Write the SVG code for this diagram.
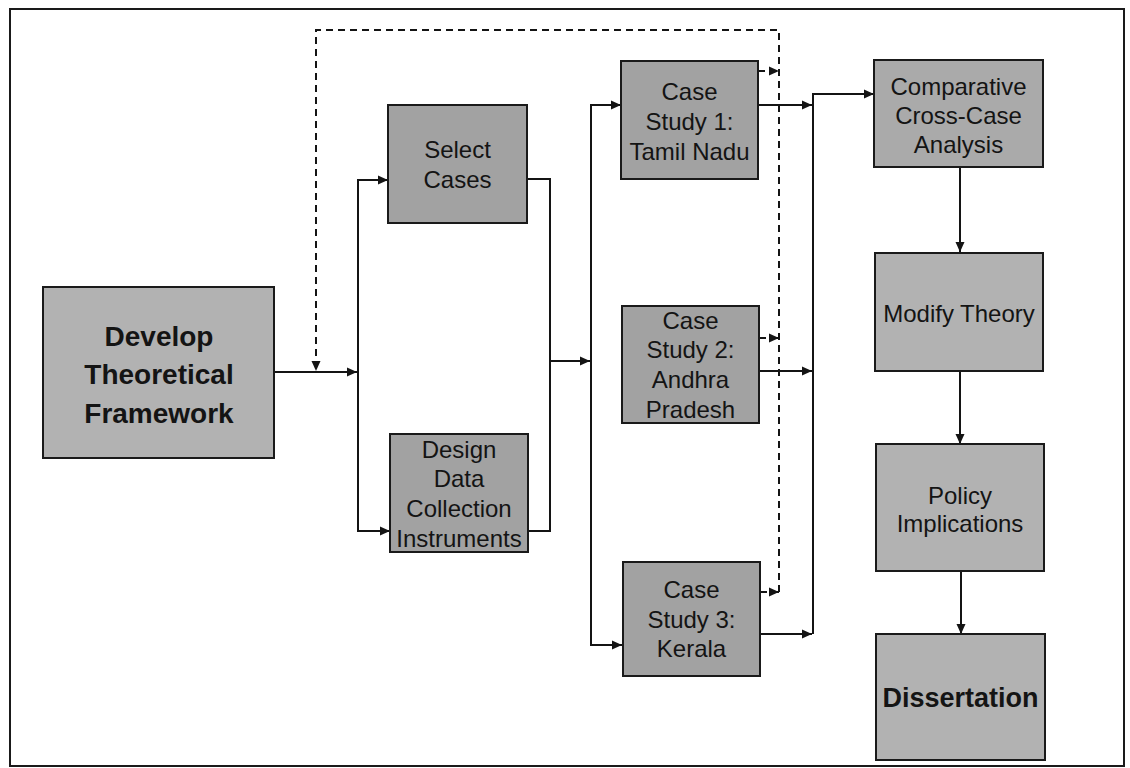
<svg xmlns="http://www.w3.org/2000/svg" width="1130" height="768" viewBox="0 0 1130 768">
<defs>
<style>
.box{stroke:#1a1a1a;stroke-width:2}
.dark{fill:#a2a2a2}
.light{fill:#b2b2b2}
.mid{fill:#aaaaaa}
.t{font-family:"Liberation Sans",Arial,sans-serif;font-size:24px;fill:#141414;text-anchor:middle}
.tb{font-family:"Liberation Sans",Arial,sans-serif;font-weight:bold;fill:#141414;text-anchor:middle}
.c{fill:none;stroke:#141414;stroke-width:2}
.d{fill:none;stroke:#141414;stroke-width:2;stroke-dasharray:7,5}
</style>
<marker id="ah" viewBox="0 0 10 10" refX="10" refY="5" markerWidth="10" markerHeight="10" markerUnits="userSpaceOnUse" orient="auto">
<path d="M0,0.5 L10,5 L0,9.5 Z" fill="#141414"/>
</marker>
</defs>
<rect x="0" y="0" width="1130" height="768" fill="#ffffff"/>
<rect x="10" y="9" width="1114" height="757" fill="none" stroke="#1a1a1a" stroke-width="2"/>

<g id="connectors">
<path class="d" d="M779,592 V30 H316 V371" marker-end="url(#ah)"/>
<path class="d" d="M758,71 H779" marker-end="url(#ah)"/>
<path class="d" d="M759,338 H779" marker-end="url(#ah)"/>
<path class="d" d="M760,592 H779" marker-end="url(#ah)"/>
<path class="c" d="M274,372 H357" marker-end="url(#ah)"/>
<path class="c" d="M358,372 V180 H388" marker-end="url(#ah)"/>
<path class="c" d="M358,372 V531 H390" marker-end="url(#ah)"/>
<path class="c" d="M527,179 H550 V531 H528"/>
<path class="c" d="M550,361 H590" marker-end="url(#ah)"/>
<path class="c" d="M591,361 V105 H621" marker-end="url(#ah)"/>
<path class="c" d="M591,361 V645 H622" marker-end="url(#ah)"/>
<path class="c" d="M758,105 H812" marker-end="url(#ah)"/>
<path class="c" d="M759,371 H812" marker-end="url(#ah)"/>
<path class="c" d="M760,634 H812" marker-end="url(#ah)"/>
<path class="c" d="M813,634 V94 H874" marker-end="url(#ah)"/>
<path class="c" d="M960,167 V252" marker-end="url(#ah)"/>
<path class="c" d="M960,371 V444" marker-end="url(#ah)"/>
<path class="c" d="M961,571 V634" marker-end="url(#ah)"/>
</g>

<g id="develop">
<rect class="box light" x="43" y="287" width="231" height="171"/>
<text class="tb" font-size="28" x="159" y="346">Develop</text>
<text class="tb" font-size="28" x="159" y="384">Theoretical</text>
<text class="tb" font-size="28" x="159" y="423">Framework</text>
</g>

<g id="select">
<rect class="box dark" x="388" y="105" width="139" height="118"/>
<text class="t" x="457.5" y="158">Select</text>
<text class="t" x="457.5" y="188">Cases</text>
</g>

<g id="design">
<rect class="box dark" x="390" y="434" width="138" height="118"/>
<text class="t" x="459" y="458">Design</text>
<text class="t" x="459" y="487">Data</text>
<text class="t" x="459" y="517">Collection</text>
<text class="t" x="459" y="547">Instruments</text>
</g>

<g id="case1">
<rect class="box dark" x="621" y="61" width="137" height="118"/>
<text class="t" x="689.5" y="100">Case</text>
<text class="t" x="689.5" y="130">Study 1:</text>
<text class="t" x="689.5" y="160">Tamil Nadu</text>
</g>

<g id="case2">
<rect class="box dark" x="622" y="306" width="137" height="117"/>
<text class="t" x="690.5" y="329">Case</text>
<text class="t" x="690.5" y="358">Study 2:</text>
<text class="t" x="690.5" y="388">Andhra</text>
<text class="t" x="690.5" y="418">Pradesh</text>
</g>

<g id="case3">
<rect class="box dark" x="623" y="562" width="137" height="114"/>
<text class="t" x="691.5" y="598">Case</text>
<text class="t" x="691.5" y="628">Study 3:</text>
<text class="t" x="691.5" y="657">Kerala</text>
</g>

<g id="comparative">
<rect class="box mid" x="874" y="60" width="169" height="107"/>
<text class="t" x="958.5" y="95">Comparative</text>
<text class="t" x="958.5" y="124">Cross-Case</text>
<text class="t" x="958.5" y="153">Analysis</text>
</g>

<g id="modify">
<rect class="box light" x="875" y="253" width="168" height="118"/>
<text class="t" x="959" y="322">Modify Theory</text>
</g>

<g id="policy">
<rect class="box light" x="876" y="444" width="168" height="127"/>
<text class="t" x="960" y="504">Policy</text>
<text class="t" x="960" y="532">Implications</text>
</g>

<g id="dissertation">
<rect class="box light" x="876" y="634" width="169" height="126"/>
<text class="tb" font-size="27" x="960.5" y="707">Dissertation</text>
</g>
</svg>
